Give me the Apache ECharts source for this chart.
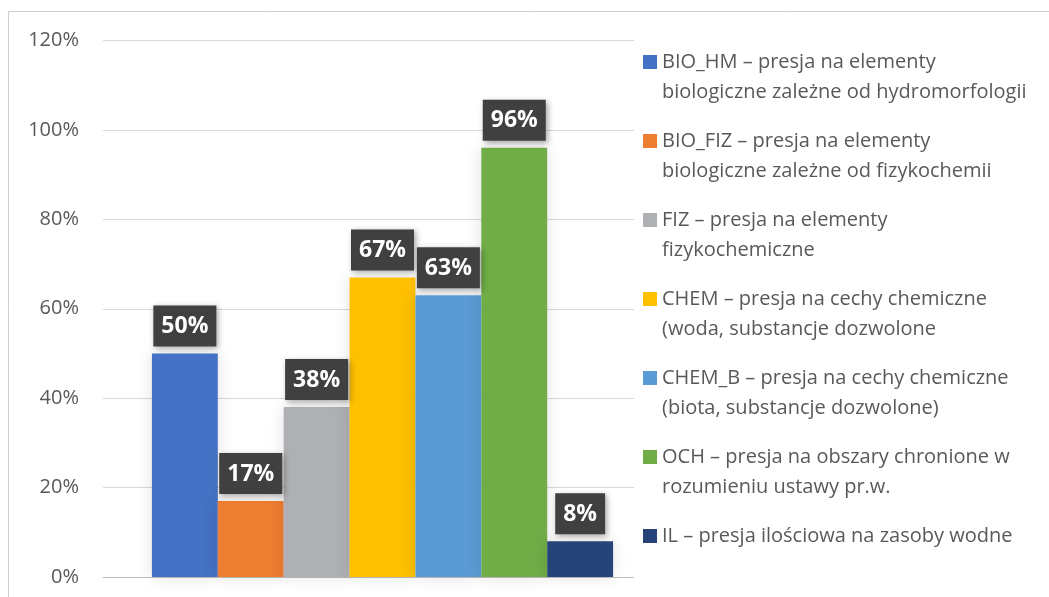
<!DOCTYPE html>
<html>
<head>
<meta charset="utf-8">
<script src="https://cdn.jsdelivr.net/npm/echarts@6/dist/echarts.min.js"></script>
<style>
  html, body { margin: 0; padding: 0; background: #fff; }
  #chart { width: 1049px; height: 597px; }
</style>
</head>
<body>
<div id="chart"></div>
<script>
const seriesNames = [
    'BIO_HM – presja na elementy\nbiologiczne zależne od hydromorfologii',
    'BIO_FIZ – presja na elementy\nbiologiczne zależne od fizykochemii',
    'FIZ – presja na elementy\nfizykochemiczne',
    'CHEM – presja na cechy chemiczne\n(woda, substancje dozwolone',
    'CHEM_B – presja na cechy chemiczne\n(biota, substancje dozwolone)',
    'OCH – presja na obszary chronione w\nrozumieniu ustawy pr.w.',
    'IL – presja ilościowa na zasoby wodne\n',
];
const seriesValues = [50, 17, 38, 67, 63, 96, 8];
const seriesColors = ['#4472C4', '#ED7D31', '#AFB0B3', '#FFC000', '#5B9BD5', '#70AD47', '#264478'];

const fontFamily = '"Open Sans", "Noto Sans", sans-serif';
const textColor = '#595959';

const chart = echarts.init(document.getElementById('chart'), null, { renderer: 'canvas' });

chart.setOption({
    animation: false,
    textStyle: { fontFamily },
    graphic: [
        {
            // legend area covers the plot area's right part, as in the original
            type: 'rect',
            z: 5,
            shape: { x: 634, y: 20, width: 415, height: 570 },
            style: { fill: '#ffffff' },
            silent: true,
        },
        {
            type: 'rect',
            z: 6,
            shape: { x: 8.5, y: 11.5, width: 1200, height: 800 },
            style: { fill: 'none', stroke: '#d0d0d0', lineWidth: 1 },
            silent: true,
        },
    ],
    grid: { left: 103, right: 387, top: 40.5, bottom: 20 },
    legend: {
        orient: 'vertical',
        left: 643,
        top: 17,
        padding: 0,
        z: 10,
        itemWidth: 14,
        itemHeight: 14,
        itemGap: -11,
        icon: 'rect',
        // empty first line keeps the marker next to the first text line
        formatter: (name) => '\n' + name,
        textStyle: {
            color: textColor,
            fontSize: 20,
            lineHeight: 30,
            fontFamily,
        },
        data: seriesNames,
    },
    xAxis: {
        type: 'category',
        data: [''],
        axisLine: { lineStyle: { color: '#bfbfbf', width: 1 } },
        axisTick: { show: false },
        axisLabel: { show: false },
    },
    yAxis: {
        type: 'value',
        min: 0,
        max: 120,
        interval: 20,
        axisLine: { show: false },
        axisTick: { show: false },
        axisLabel: { color: textColor, fontSize: 20, margin: 24, formatter: '{value}%' },
        splitLine: { lineStyle: { color: '#d9d9d9', width: 1 } },
    },
    series: seriesNames.map((name, i) => ({
        name,
        type: 'bar',
        data: [seriesValues[i]],
        barGap: '0%',
        barCategoryGap: '17.5%',
        itemStyle: {
            color: seriesColors[i],
            shadowColor: 'rgba(0,0,0,0.12)',
            shadowBlur: 16,
        },
        label: {
            show: true,
            position: 'top',
            distance: 7,
            formatter: '{c}%',
            color: '#ffffff',
            fontWeight: 'bold',
            fontSize: 23,
            lineHeight: 26,
            fontFamily,
            backgroundColor: '#404040',
            padding: [8, 8, 7, 8],
            shadowColor: 'rgba(0,0,0,0.35)',
            shadowBlur: 6,
            shadowOffsetX: 2,
            shadowOffsetY: 2,
        },
    })),
});
</script>
</body>
</html>
